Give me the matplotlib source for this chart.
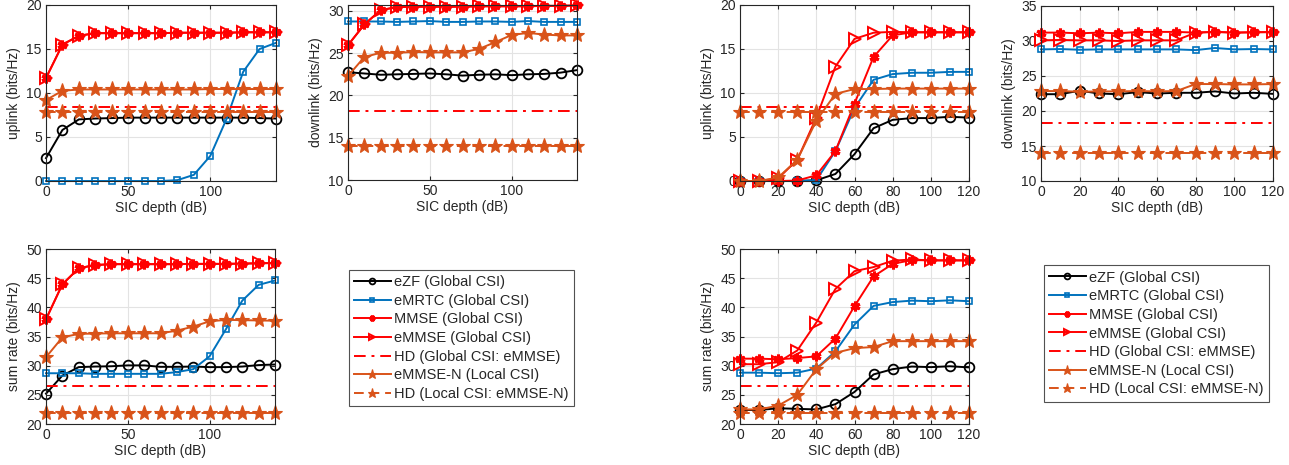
import matplotlib
matplotlib.use("Agg")
import matplotlib.pyplot as plt
import numpy as np

plt.rcParams['font.family'] = ['Liberation Sans', 'DejaVu Sans']
plt.rcParams['font.size'] = 10

# ---------------- data ----------------
x_left = [0, 10, 20, 30, 40, 50, 60, 70, 80, 90, 100, 110, 120, 130, 140]
x_right = [0, 10, 20, 30, 40, 50, 60, 70, 80, 90, 100, 110, 120]

labels = ["eZF (Global CSI)", "eMRTC (Global CSI)", "MMSE (Global CSI)",
          "eMMSE (Global CSI)", "HD (Global CSI: eMMSE)",
          "eMMSE-N (Local CSI)", "HD (Local CSI: eMMSE-N)"]

# left group - uplink
L_up_ezf = [2.6, 5.8, 7.0, 7.1, 7.15, 7.2, 7.2, 7.2, 7.2, 7.2, 7.2, 7.2, 7.2, 7.15, 7.1]
L_up_emrtc = [0, 0, 0, 0, 0, 0, 0, 0, 0.1, 0.7, 2.85, 7.1, 12.4, 15.0, 15.7]
L_up_mmse = [11.7, 15.5, 16.5, 16.8, 16.8, 16.8, 16.8, 16.8, 16.85, 16.85, 16.85, 16.85, 16.9, 16.9, 16.9]
L_up_emmse = [11.7, 15.5, 16.5, 16.8, 16.8, 16.8, 16.8, 16.8, 16.85, 16.85, 16.85, 16.85, 16.9, 16.9, 16.9]
L_up_hd_g = [8.45] * 15
L_up_emmsen = [9.2, 10.25, 10.4, 10.4, 10.4, 10.4, 10.4, 10.4, 10.4, 10.4, 10.45, 10.45, 10.45, 10.45, 10.45]
L_up_hd_l = [7.8] * 15

# left group - downlink
L_dn_ezf = [22.75, 22.6, 22.45, 22.5, 22.55, 22.6, 22.5, 22.35, 22.45, 22.5, 22.4, 22.5, 22.55, 22.7, 23.0]
L_dn_emrtc = [28.75, 28.75, 28.75, 28.7, 28.75, 28.8, 28.7, 28.7, 28.75, 28.75, 28.7, 28.8, 28.7, 28.7, 28.7]
L_dn_mmse = [25.95, 28.4, 30.1, 30.45, 30.5, 30.5, 30.5, 30.5, 30.55, 30.55, 30.55, 30.55, 30.6, 30.6, 30.65]
L_dn_emmse = [25.95, 28.4, 30.1, 30.45, 30.5, 30.5, 30.5, 30.5, 30.55, 30.55, 30.55, 30.55, 30.6, 30.6, 30.65]
L_dn_hd_g = [18.15] * 15
L_dn_emmsen = [22.3, 24.55, 25.05, 25.05, 25.15, 25.1, 25.1, 25.1, 25.5, 26.3, 27.15, 27.4, 27.2, 27.1, 27.1]
L_dn_hd_l = [14.0] * 15

# left group - sum rate
L_sr_ezf = [25.2, 28.3, 29.75, 29.85, 29.9, 30.05, 30.05, 29.8, 29.8, 29.85, 29.75, 29.75, 29.85, 30.1, 30.2]
L_sr_emrtc = [28.7, 28.7, 28.7, 28.6, 28.6, 28.6, 28.6, 28.6, 28.9, 29.4, 31.6, 36.25, 41.15, 43.85, 44.6]
L_sr_mmse = [37.95, 43.95, 46.7, 47.25, 47.4, 47.4, 47.4, 47.4, 47.4, 47.45, 47.45, 47.45, 47.5, 47.55, 47.6]
L_sr_emmse = [37.95, 43.95, 46.7, 47.25, 47.4, 47.4, 47.4, 47.4, 47.4, 47.45, 47.45, 47.45, 47.5, 47.55, 47.6]
L_sr_hd_g = [26.6] * 15
L_sr_emmsen = [31.45, 34.85, 35.45, 35.5, 35.55, 35.55, 35.55, 35.55, 36.0, 36.7, 37.6, 37.85, 37.8, 37.75, 37.7]
L_sr_hd_l = [21.8] * 15

# right group - uplink
R_up_ezf = [0, 0, 0, 0, 0.08, 0.8, 3.05, 6.0, 6.95, 7.15, 7.15, 7.3, 7.2]
R_up_emrtc = [0, 0, 0, 0, 0.1, 3.4, 8.3, 11.5, 12.15, 12.3, 12.3, 12.4, 12.4]
R_up_mmse = [0, 0, 0, 0.05, 0.65, 3.4, 8.8, 14.1, 16.55, 16.9, 16.9, 16.9, 16.9]
R_up_emmse = [0, 0, 0.3, 2.4, 7.2, 13.0, 16.15, 16.85, 16.95, 16.9, 16.9, 16.9, 16.9]
R_up_hd_g = [8.45] * 13
R_up_emmsen = [0, 0, 0.4, 2.4, 6.85, 9.9, 10.45, 10.45, 10.5, 10.5, 10.5, 10.5, 10.5]
R_up_hd_l = [7.8] * 13

# right group - downlink
R_dn_ezf = [22.4, 22.4, 22.9, 22.5, 22.4, 22.7, 22.5, 22.6, 22.6, 22.8, 22.5, 22.6, 22.45]
R_dn_emrtc = [28.8, 28.85, 28.75, 28.8, 28.8, 28.8, 28.8, 28.8, 28.7, 29.0, 28.8, 28.85, 28.8]
R_dn_mmse = [31.2, 31.2, 31.1, 31.2, 31.1, 31.3, 31.3, 31.3, 31.2, 31.3, 31.2, 31.25, 31.3]
R_dn_emmse = [30.1, 30.15, 30.1, 30.1, 30.0, 30.1, 30.1, 30.1, 31.2, 31.3, 31.2, 31.25, 31.25]
R_dn_hd_g = [18.25] * 13
R_dn_emmsen = [22.85, 22.85, 22.75, 22.8, 22.8, 22.85, 22.8, 22.85, 23.85, 23.85, 23.8, 23.8, 23.85]
R_dn_hd_l = [14.05] * 13

# right group - sum rate
R_sr_ezf = [22.4, 22.4, 22.7, 22.6, 22.5, 23.4, 25.5, 28.5, 29.4, 29.85, 29.75, 29.9, 29.7]
R_sr_emrtc = [28.8, 28.8, 28.7, 28.8, 29.5, 32.45, 37.05, 40.25, 40.9, 41.15, 41.05, 41.2, 41.05]
R_sr_mmse = [31.2, 31.2, 31.1, 31.3, 31.6, 34.65, 40.2, 45.3, 47.45, 48.1, 48.05, 48.05, 48.05]
R_sr_emmse = [30.25, 30.25, 30.6, 32.6, 37.4, 43.15, 46.2, 46.9, 48.0, 48.2, 48.05, 48.05, 48.05]
R_sr_hd_g = [26.6] * 13
R_sr_emmsen = [22.5, 22.5, 23.15, 25.0, 29.4, 32.2, 33.0, 33.2, 34.2, 34.2, 34.2, 34.2, 34.2]
R_sr_hd_l = [21.8] * 13

# ---------------- styles ----------------
BLUE = '#0072BD'
ORANGE = '#D95319'
RED = '#FF0000'
styles = [
    dict(color='black', ls='-', marker='o', ms=7, mfc='none', mew=1.3),
    dict(color=BLUE, ls='-', marker='s', ms=4.5, mfc='none', mew=1.2),
    dict(color=RED, ls='-', marker=(6, 2, 0), ms=7, mfc=RED, mew=2.2),
    dict(color=RED, ls='-', marker='>', ms=8, mfc='none', mew=1.4),
    dict(color=RED, ls=(0, (6, 3, 1.5, 3)), marker=None),
    dict(color=ORANGE, ls='-', marker='*', ms=11, mfc=ORANGE, mew=0.8),
    dict(color=ORANGE, ls=(0, (5, 3)), marker='*', ms=11, mfc=ORANGE, mew=0.8),
]

W, H = 1289, 465
fig = plt.figure(figsize=(W / 100, H / 100), dpi=100)


def make_ax(x0, x1, y0, y1):
    return fig.add_axes([x0 / W, 1 - y1 / H, (x1 - x0) / W, (y1 - y0) / H])


def draw(ax, x, series, ylim, yticks, xlim, xticks, ylabel):
    handles = []
    for s, st in zip(series, styles):
        h, = ax.plot(x, s, lw=1.4, clip_on=False, **st)
        handles.append(h)
    ax.set_xlim(*xlim)
    ax.set_ylim(*ylim)
    ax.set_xticks(xticks)
    ax.set_yticks(yticks)
    ax.grid(True, color='#e3e3e3', lw=0.8)
    ax.set_axisbelow(True)
    ax.tick_params(direction='in', top=True, right=True, length=3,
                   colors='#262626', labelsize=10, pad=3)
    for sp in ax.spines.values():
        sp.set_color('#262626')
        sp.set_linewidth(0.8)
    ax.set_xlabel('SIC depth (dB)', fontsize=10, color='#262626', labelpad=1)
    ax.set_ylabel(ylabel, fontsize=10, color='#262626', labelpad=4)
    return handles


# left group
ax = make_ax(46, 276, 5, 181)
draw(ax, x_left, [L_up_ezf, L_up_emrtc, L_up_mmse, L_up_emmse, L_up_hd_g, L_up_emmsen, L_up_hd_l],
     (0, 20), [0, 5, 10, 15, 20], (0, 140), [0, 50, 100], 'uplink (bits/Hz)')
ax = make_ax(348, 577, 5, 180)
draw(ax, x_left, [L_dn_ezf, L_dn_emrtc, L_dn_mmse, L_dn_emmse, L_dn_hd_g, L_dn_emmsen, L_dn_hd_l],
     (10, 30.7), [10, 15, 20, 25, 30], (0, 140), [0, 50, 100], 'downlink (bits/Hz)')
ax = make_ax(46, 275, 249, 424)
hL = draw(ax, x_left, [L_sr_ezf, L_sr_emrtc, L_sr_mmse, L_sr_emmse, L_sr_hd_g, L_sr_emmsen, L_sr_hd_l],
          (20, 50), [20, 25, 30, 35, 40, 45, 50], (0, 140), [0, 50, 100], 'sum rate (bits/Hz)')

# right group
xt_r = [0, 20, 40, 60, 80, 100, 120]
ax = make_ax(740, 969, 5, 181)
draw(ax, x_right, [R_up_ezf, R_up_emrtc, R_up_mmse, R_up_emmse, R_up_hd_g, R_up_emmsen, R_up_hd_l],
     (0, 20), [0, 5, 10, 15, 20], (0, 120), xt_r, 'uplink (bits/Hz)')
ax = make_ax(1041, 1273, 6, 181)
draw(ax, x_right, [R_dn_ezf, R_dn_emrtc, R_dn_mmse, R_dn_emmse, R_dn_hd_g, R_dn_emmsen, R_dn_hd_l],
     (10, 35), [10, 15, 20, 25, 30, 35], (0, 120), xt_r, 'downlink (bits/Hz)')
ax = make_ax(740, 969, 249, 424)
hR = draw(ax, x_right, [R_sr_ezf, R_sr_emrtc, R_sr_mmse, R_sr_emmse, R_sr_hd_g, R_sr_emmsen, R_sr_hd_l],
          (20, 50), [20, 25, 30, 35, 40, 45, 50], (0, 120), xt_r, 'sum rate (bits/Hz)')


def legend(handles, cx, cy):
    leg = fig.legend(handles, labels, loc='center', bbox_to_anchor=(cx / W, 1 - cy / H),
                     fontsize=10.5, frameon=True, fancybox=False, handlelength=2.5,
                     handletextpad=0.25, labelspacing=0.32, borderpad=0.35,
                     borderaxespad=0, markerscale=0.6)
    leg.get_frame().set_edgecolor('#262626')
    leg.get_frame().set_linewidth(0.8)
    for t in leg.get_texts():
        t.set_color('#262626')


legend(hL, 461.5, 338)
legend(hR, 1156.5, 333.5)

fig.savefig('out.png', dpi=100)
